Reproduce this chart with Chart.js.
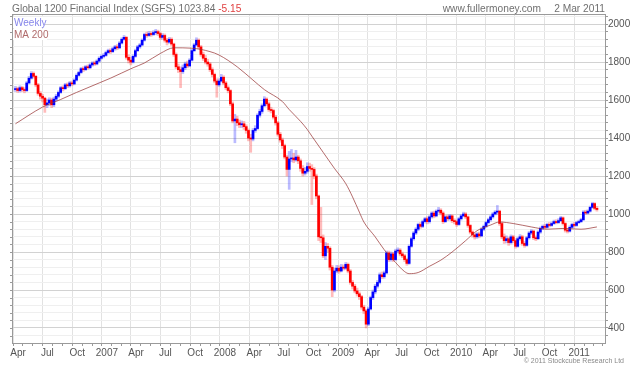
<!DOCTYPE html>
<html>
<head>
<meta charset="utf-8">
<script src="https://cdn.jsdelivr.net/npm/chart.js@4.4.1/dist/chart.umd.min.js"></script>
<style>
  html, body { margin: 0; padding: 0; background: #fff; }
  #wrap { width: 640px; height: 366px; }
</style>
</head>
<body>
<div id="wrap"><canvas id="c" width="640" height="366"></canvas></div>
<script>
// Weekly bars, first week ending 24 Mar 2006
const firstWeek = [2006, 2, 24];
const firstOpen = 1655;

const closes = [
  1660,1650,1665,1655,1650,1690,1715,1740,1725,1680,
  1635,1620,1610,1575,1585,1600,1575,1605,1620,1640,
  1665,1660,1680,1675,1690,1685,1705,1730,1745,1765,
  1760,1775,1770,1785,1795,1790,1805,1820,1830,1835,
  1850,1860,1855,1870,1880,1875,1900,1920,1930,1825,
  1810,1800,1830,1860,1880,1890,1915,1945,1940,1950,
  1945,1955,1960,1950,1930,1940,1915,1905,1920,1895,
  1840,1775,1760,1750,1770,1790,1780,1810,1860,1890,
  1915,1880,1840,1820,1800,1790,1760,1735,1700,1680,
  1700,1720,1690,1665,1650,1580,1490,1500,1480,1470,
  1475,1460,1440,1400,1395,1440,1450,1520,1540,1570,
  1605,1580,1550,1545,1510,1480,1420,1390,1360,1300,
  1235,1290,1295,1285,1300,1280,1240,1215,1225,1250,
  1240,1235,1200,1095,880,875,780,830,820,720,
  600,700,715,700,720,715,735,700,640,620,
  595,580,565,510,490,420,500,560,590,620,
  640,680,670,690,795,760,790,760,805,810,
  790,780,760,740,830,870,900,920,945,935,
  960,975,960,985,1005,990,1015,1020,1005,960,
  985,975,990,965,960,945,975,990,1000,985,
  940,905,890,880,895,885,920,935,955,970,
  985,1000,1010,1015,950,880,860,870,850,880,
  860,830,870,880,845,835,875,900,910,875,
  870,905,925,935,930,945,940,950,960,955,
  965,980,950,915,910,930,945,940,955,960,
  970,1010,1005,1015,1035,1055,1030,1023.84
];

const highs = [
  1672,1668,1675,1672,1665,1698,1725,1750,1748,1730,
  1688,1645,1630,1615,1605,1612,1610,1615,1630,1648,
  1672,1675,1688,1690,1698,1700,1712,1738,1752,1772,
  1775,1782,1785,1792,1802,1805,1812,1828,1838,1845,
  1858,1868,1870,1878,1888,1892,1908,1928,1940,1935,
  1838,1825,1838,1868,1888,1898,1922,1952,1958,1962,
  1960,1965,1972,1968,1958,1950,1948,1925,1930,1928,
  1900,1848,1790,1775,1785,1800,1805,1818,1868,1898,
  1928,1922,1888,1852,1835,1815,1798,1770,1742,1712,
  1712,1735,1728,1698,1675,1655,1590,1525,1515,1495,
  1490,1488,1470,1448,1420,1450,1465,1528,1552,1580,
  1618,1612,1590,1562,1552,1520,1488,1430,1400,1368,
  1310,1330,1340,1320,1335,1310,1290,1255,1245,1270,
  1268,1260,1245,1210,1100,1035,890,850,845,828,
  730,715,730,728,735,732,745,742,708,650,
  630,610,590,572,520,498,510,568,600,630,
  650,690,695,700,805,805,800,798,815,822,
  818,800,788,768,838,878,908,928,952,955,
  968,982,985,992,1012,1015,1022,1035,1028,1012,
  992,995,998,996,975,968,982,998,1010,1008,
  990,945,912,898,902,905,928,942,962,978,
  992,1008,1018,1045,1020,958,895,885,878,890,
  888,870,878,892,888,855,882,908,918,915,
  885,912,932,942,945,952,955,958,968,970,
  975,988,985,955,925,938,952,955,962,968,
  978,1018,1020,1022,1042,1062,1060,1040
];

const lows = [
  1645,1640,1642,1645,1638,1645,1685,1710,1715,1670,
  1625,1605,1590,1535,1560,1570,1560,1565,1595,1612,
  1635,1648,1655,1665,1668,1675,1680,1700,1725,1740,
  1750,1755,1762,1765,1778,1782,1785,1800,1815,1822,
  1830,1845,1845,1850,1862,1865,1870,1895,1915,1815,
  1795,1785,1795,1825,1855,1872,1885,1910,1930,1935,
  1935,1940,1945,1940,1918,1920,1905,1890,1898,1885,
  1830,1765,1745,1665,1740,1760,1770,1775,1805,1855,
  1885,1870,1830,1808,1790,1778,1750,1722,1690,1615,
  1672,1695,1680,1655,1638,1570,1480,1375,1465,1455,
  1455,1445,1425,1385,1325,1385,1430,1445,1510,1530,
  1565,1570,1540,1532,1500,1468,1410,1378,1345,1290,
  1200,1130,1275,1270,1278,1265,1225,1200,1205,1215,
  1225,1050,1185,1080,860,850,770,760,800,705,
  565,590,690,688,695,705,708,690,630,605,
  585,568,550,498,475,400,412,495,550,580,
  610,632,660,662,685,750,752,750,755,795,
  780,770,750,730,735,825,862,892,912,925,
  928,952,948,952,978,980,985,1005,995,950,
  955,965,968,955,948,935,940,968,985,975,
  930,895,878,868,872,875,880,912,928,948,
  962,978,995,1000,940,870,845,848,835,842,
  848,820,825,862,835,825,830,868,892,865,
  860,865,898,918,922,925,932,935,945,948,
  950,960,942,905,900,905,925,932,935,950,
  955,965,998,1000,1010,1030,1022,1015
];

// 200-day moving average, read at these week numbers
const maWeeks = [0,12,20,27,37,42,52,57,64,70,78,86,90,98,105,110,118,121,126,129,
  131,136,141,146,149,152,154,159,163,168,172,174,178,183,188,193,199,204,210,214,
  220,228,235,242,250,257];
const maValues = [1475,1563,1603,1640,1690,1715,1770,1795,1845,1875,1873,1855,1837,1775,1705,1655,1592,1550,1488,1445,
  1410,1325,1240,1160,1090,1010,958,880,812,745,697,686,692,725,757,800,860,912,942,958,
  950,932,920,924,920,932];

const monthNames = ["Jan","Feb","Mar","Apr","May","Jun","Jul","Aug","Sep","Oct","Nov","Dec"];
const yMajor = 200;
const yMinor = 40;

const FONT = "'Liberation Sans', Arial, sans-serif";
Chart.defaults.font.family = FONT;

const base = Date.UTC(2006, 3, 1);
function dayOf(y, m, d) { return (Date.UTC(y, m, d) - base) / 864e5; }
const day0 = dayOf(firstWeek[0], firstWeek[1], firstWeek[2]);
function weekDay(i) { return day0 + 7 * i; }

const xMin = -18.6, xMax = 1816;
const monthTicks = [];
for (let y = 2006; y <= 2011; y++) {
  for (let m = 0; m < 12; m++) {
    const v = dayOf(y, m, 1);
    if (v >= xMin && v <= xMax) monthTicks.push({ v: v, y: y, m: m });
  }
}
const quarterDays = new Set(monthTicks.filter(t => t.m % 3 === 0).map(t => t.v));

const opens = closes.map((c, i) => i ? closes[i - 1] : firstOpen);
const upColor = closes.map((c, i) => c >= opens[i]);

const decor = {
  id: "decor",
  afterDraw(chart) {
    const c = chart.ctx, a = chart.chartArea;
    c.save();
    c.strokeStyle = "#9a9a9a";
    c.lineWidth = 1;
    c.strokeRect(Math.round(a.left) + 0.5, Math.round(a.top) + 0.5,
      Math.round(a.right - a.left), Math.round(a.bottom - a.top));
    // small ticks on left edge
    const ys = chart.scales.y;
    ys.ticks.forEach(t => {
      const py = Math.round(ys.getPixelForValue(t.value)) + 0.5;
      c.beginPath();
      c.moveTo(a.left - 2, py);
      c.lineTo(a.left + 1, py);
      c.stroke();
    });

    // header
    c.textBaseline = "alphabetic";
    c.font = "10.2px " + FONT;
    c.fillStyle = "#707070";
    c.textAlign = "left";
    const head = "Global 1200 Financial Index (SGFS) 1023.84 ";
    c.fillText(head, 12, 12);
    c.fillStyle = "#e04040";
    c.fillText("-5.15", 12 + c.measureText(head).width, 12);
    c.fillStyle = "#707070";
    c.textAlign = "right";
    c.fillText("2 Mar 2011", 605, 12);
    c.fillText("www.fullermoney.com", 541, 12);

    // legend
    c.textAlign = "left";
    c.font = "10px " + FONT;
    c.fillStyle = "#fff";
    c.fillRect(13, 17, 32, 11);
    c.fillRect(13, 29, 34, 11);
    c.fillStyle = "#8585ea";
    c.fillText("Weekly", 14, 26);
    c.fillStyle = "#b06a6a";
    c.fillText("MA 200", 14, 38);

    // copyright
    c.font = "7px " + FONT;
    c.fillStyle = "#8a8a8a";
    c.textAlign = "right";
    c.fillText("\u00a9 2011 Stockcube Research Ltd", 624, 363);
    c.restore();
  }
};

new Chart(document.getElementById("c"), {
  type: "bar",
  data: {
    datasets: [
      {
        type: "line",
        label: "MA 200",
        data: maWeeks.map((w, k) => ({ x: weekDay(w), y: maValues[k] })),
        borderColor: "rgba(150,50,50,0.8)",
        borderWidth: 0.9,
        pointRadius: 0,
        cubicInterpolationMode: "monotone",
        order: 1
      },
      {
        label: "Weekly",
        data: closes.map((c, i) => ({ x: weekDay(i), y: [opens[i], c] })),
        backgroundColor: upColor.map(u => u ? "#0000ff" : "#ff0000"),
        barThickness: 2,
        minBarLength: 1,
        grouped: false,
        order: 2
      },
      {
        label: "range",
        data: closes.map((c, i) => ({ x: weekDay(i), y: [lows[i], highs[i]] })),
        backgroundColor: upColor.map(u => u ? "rgba(60,60,255,0.35)" : "rgba(255,60,60,0.35)"),
        barThickness: 2,
        grouped: false,
        order: 3
      }
    ]
  },
  options: {
    responsive: false,
    animation: false,
    layout: { padding: { left: 12, top: 14, right: 0, bottom: 0 } },
    plugins: { legend: { display: false }, tooltip: { enabled: false } },
    scales: {
      x: {
        type: "linear",
        min: xMin,
        max: xMax,
        offset: false,
        afterBuildTicks: s => { s.ticks = monthTicks.map(t => ({ value: t.v })); },
        afterFit: s => { s.height = 23; },
        ticks: {
          autoSkip: false,
          maxRotation: 0,
          padding: 1,
          color: "#555",
          font: { size: 10 },
          callback: (v, i) => {
            const t = monthTicks[i];
            if (!t) return "";
            if (t.m === 0) return String(t.y);
            return t.m % 3 === 0 ? monthNames[t.m] : "";
          }
        },
        grid: {
          color: ctx => (ctx.tick && quarterDays.has(ctx.tick.value)) ? "#e2e2e2" : "rgba(0,0,0,0)",
          tickColor: "#9a9a9a",
          tickLength: 3
        },
        border: { color: "#9a9a9a" }
      },
      y: {
        position: "right",
        min: 321,
        max: 2053,
        afterBuildTicks: s => {
          const t = [];
          for (let v = 360; v <= 2040; v += yMinor) t.push({ value: v });
          s.ticks = t;
        },
        afterFit: s => { s.width = 35; },
        ticks: {
          autoSkip: false,
          padding: 0,
          color: "#555",
          font: { size: 10 },
          callback: v => v % yMajor === 0 ? String(v) : ""
        },
        grid: {
          color: ctx => (ctx.tick && ctx.tick.value % yMajor === 0) ? "#d2d2d2" : "#efefef",
          tickColor: "#9a9a9a",
          tickLength: 3
        },
        border: { color: "#9a9a9a" }
      }
    }
  },
  plugins: [decor]
});
</script>
</body>
</html>
